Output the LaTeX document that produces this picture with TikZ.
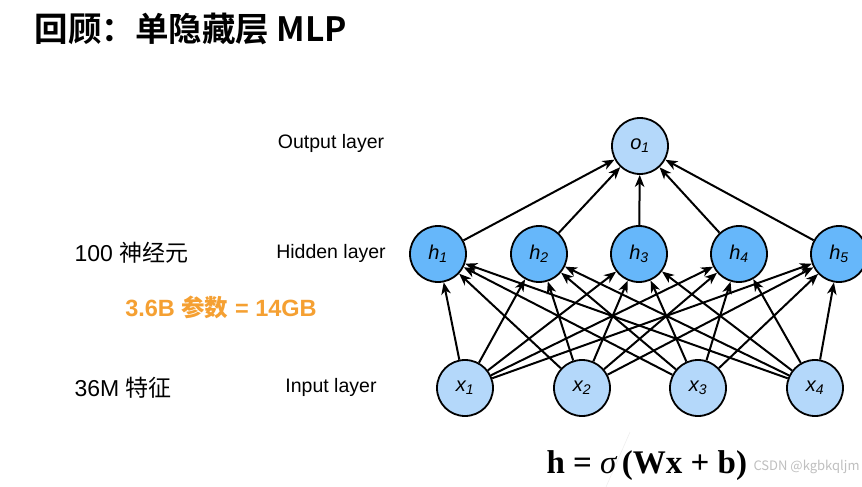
\documentclass[tikz,border=0pt]{standalone}
\usepackage{fontspec}
\setmainfont{Liberation Sans}
\newfontfamily\cjk{Noto Sans CJK SC}
\newfontfamily\cjkb{Noto Sans CJK SC Bold}
\newfontfamily\timesf{Liberation Serif}
\usetikzlibrary{arrows.meta}
\definecolor{hblue}{RGB}{102,183,250}
\definecolor{lblue}{RGB}{180,216,250}
\definecolor{orng}{RGB}{245,160,50}
\begin{document}
\begin{tikzpicture}[x=1pt,y=-1pt,
  neuron/.style={circle,draw=black,line width=1.8pt,minimum size=56pt,inner sep=0pt,font=\fontsize{20}{20}\selectfont\itshape},
  hid/.style={neuron,fill=hblue},
  inp/.style={neuron,fill=lblue},
  conn/.style={-{Stealth[length=12pt,width=9.5pt,inset=3.5pt]},line width=2pt},
  lab/.style={font=\fontsize{19.5}{22}\selectfont,anchor=center},
  side/.style={font=\fontsize{23}{26}\selectfont,anchor=west}]
\useasboundingbox (0,0) rectangle (862,487);
\fill[white] (0,0) rectangle (862,487);
\node[font=\cjkb\fontsize{33.5}{36}\selectfont,anchor=west] (title) at (31,29) {回顾：单隐藏层 MLP};

\node[inp] (o1) at (640,146) {o\textsubscript{1}};
\foreach \i/\x in {1/438,2/539,3/639,4/739,5/839}
  \node[hid] (h\i) at (\x,254) {h\textsubscript{\i}};
\foreach \i/\x in {1/465,2/582,3/698,4/815}
  \node[inp] (x\i) at (\x,388) {x\textsubscript{\i}};

\foreach \i in {1,...,5} \draw[conn] (h\i) -- (o1);
\foreach \i in {1,...,4} \foreach \j in {1,...,5} \draw[conn] (x\i) -- (h\j);

\node[lab] (lo) at (331,143) {Output layer};
\node[lab] (lh) at (331,253) {Hidden layer};
\node[lab] (li) at (331,387) {Input layer};

\node[side] (n100) at (71,253) {100 {\cjk 神经元}};
\node[side] (n36) at (71,388) {36M {\cjk 特征}};
\node[font=\bfseries\fontsize{23.5}{26}\selectfont,text=orng] (par) at (221,307) {3.6B {\cjkb 参数} = 14GB};

\draw[black!7,line width=0.5pt] (630,432) -- (606,487);
\node[font=\timesf\bfseries\fontsize{33}{36}\selectfont,anchor=west] (eq) at (543,466) {h = {\mdseries\itshape σ\,}(Wx + b)};
\node[font=\cjk\fontsize{13}{15}\selectfont,text=black!25,anchor=west] (wm) at (750,467) {CSDN @kgbkqljm};
\end{tikzpicture}
\end{document}
